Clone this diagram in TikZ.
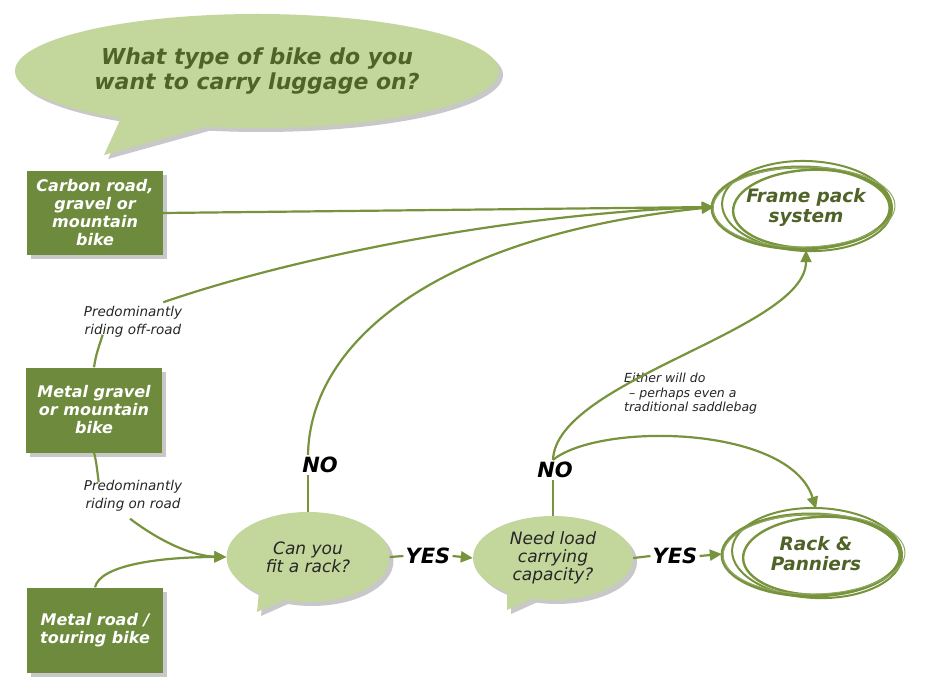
\documentclass[tikz,border=0pt]{standalone}
\usepackage{fontspec}
\setmainfont{DejaVu Sans}
\usetikzlibrary{shapes.geometric,shapes.callouts,arrows.meta,shadows,calc}
\definecolor{boxgreen}{HTML}{6E8B3D}
\definecolor{bubble}{HTML}{C3D69B}
\definecolor{linegreen}{HTML}{77933C}
\definecolor{darkolive}{HTML}{4F6228}
\begin{document}
\begin{tikzpicture}[x=1pt,y=-1pt,
  shadowed/.style={drop shadow={opacity=0.3,shadow xshift=4pt,shadow yshift=-4pt,fill=black!70}},
  bikebox/.style={rectangle,fill=boxgreen,text=white,font=\fontsize{16}{18}\selectfont\bfseries\itshape,align=center,minimum width=136,minimum height=84,inner sep=2pt,shadowed},
  bubblenode/.style={ellipse callout,fill=bubble,align=center,inner sep=1pt,shadowed},
  decision/.style={bubblenode,font=\fontsize{17}{18}\selectfont\itshape,text=black!85},
  outcome/.style={ellipse,align=center,text=darkolive,font=\fontsize{18.5}{20}\selectfont\bfseries\itshape},
  note/.style={align=center,font=\fontsize{13.5}{18}\selectfont\itshape,text=black!85,inner sep=1pt},
  yesno/.style={font=\fontsize{21}{22}\selectfont\bfseries\itshape,text=black,inner sep=2pt},
  conn/.style={draw=linegreen,line width=2.2pt},
  arr/.style={conn,-{Triangle[length=12pt,width=11pt]}},
  scribble/.style={draw=linegreen}
]
\fill[white] (0,0) rectangle (933,700);
\useasboundingbox (0,0) rectangle (933,700);

% title bubble
\node[bubblenode,minimum width=484,minimum height=114,text=darkolive,
      font=\fontsize{22}{25}\selectfont\bfseries\itshape,
      callout absolute pointer={(104,155)},callout pointer arc=22] (q) at (257,71)
  {What type of bike do you\\want to carry luggage on?};

% bike boxes
\node[bikebox] (carbon) at (95,213) {Carbon road,\\gravel or\\mountain\\bike};
\node[bikebox,minimum height=85] (mgravel) at (94,410) {Metal gravel\\or mountain\\bike};
\node[bikebox,minimum height=85] (mroad) at (95,630) {Metal road /\\touring bike};

% notes
\node[note] (offroad) at (133,322) {Predominantly\\riding off-road};
\node[note] (onroad) at (133,496) {Predominantly\\riding on road};
\node[note,align=left,anchor=north west,font=\fontsize{12.5}{14.5}\selectfont\itshape] (either) at (623,372)
  {Either will do\\\hspace*{5pt}– perhaps even a\\traditional saddlebag};

% decisions
\node[decision,minimum width=163,minimum height=90,
      callout absolute pointer={(257,612)},callout pointer arc=20] (fit) at (308,557) {Can you\\fit a rack?};
\node[decision,minimum width=160,minimum height=84,
      callout absolute pointer={(507,610)},callout pointer arc=20] (need) at (553,558) {Need load\\carrying\\capacity?};

% yes/no labels
\node[yesno] (no1) at (320,465) {NO};
\node[yesno] (no2) at (555,470) {NO};
\node[yesno] (yes1) at (428,556) {YES};
\node[yesno] (yes2) at (675,556) {YES};

% outcomes
\node[outcome,minimum width=184,minimum height=86] (frame) at (806,207) {Frame pack\\system};
\node[outcome,minimum width=188,minimum height=90] (rack) at (816,554) {Rack \&\\Panniers};

\foreach \n in {frame,rack}{
  \draw[scribble,line width=3pt] ($(\n.center)+(-5,1)$) ellipse[x radius=89,y radius=41];
  \draw[scribble,line width=2pt,rotate around={-2:($(\n.center)+(1,-1)$)}] ($(\n.center)+(1,-1)$) ellipse[x radius=85,y radius=45];
  \draw[scribble,line width=2.4pt,rotate around={2:($(\n.center)+(6,2)$)}] ($(\n.center)+(6,2)$) ellipse[x radius=79,y radius=39];
  \draw[scribble,line width=1pt,draw=linegreen!80,rotate around={1:($(\n.center)+(-2,0)$)}] ($(\n.center)+(-2,0)$) ellipse[x radius=91,y radius=40];
}

% connectors
\draw[arr] (carbon.east) -- (frame.west);
\draw[arr] ($(offroad.north east)+(-20,-3)$) .. controls (300,255) and (520,213) .. (frame.west);
\draw[conn] (mgravel.north) .. controls ($(mgravel.north)+(2,-12)$) .. ($(offroad.south west)+(20,-4)$);
\draw[conn] (mgravel.south) .. controls ($(mgravel.south)+(2,8)$) .. ($(onroad.north west)+(16,3)$);
\draw[arr] ($(onroad.south)+(-3,6)$) .. controls (165,545) and (195,556) .. (fit.west);
\draw[arr] (mroad.north) .. controls (100,565) and (160,557) .. (fit.west);
\draw[conn] (fit.north) -- (fit.north |- no1.south);
\draw[arr] (fit.north |- no1.north) .. controls (310,340) and (440,235) .. (frame.west);
\draw[conn] (fit.east) -- (yes1.west);
\draw[arr] (yes1.east) -- (need.west);
\draw[conn] (need.north) -- (need.north |- no2.south);
\draw[arr] (need.north |- no2.north) .. controls (556,380) and (806,330) .. (frame.south);
\draw[arr] (need.north |- no2.north) .. controls (600,422) and (790,425) .. (rack.north);
\draw[conn] (need.east) -- (yes2.west);
\draw[arr] (yes2.east) -- (rack.west);
\end{tikzpicture}
\end{document}
